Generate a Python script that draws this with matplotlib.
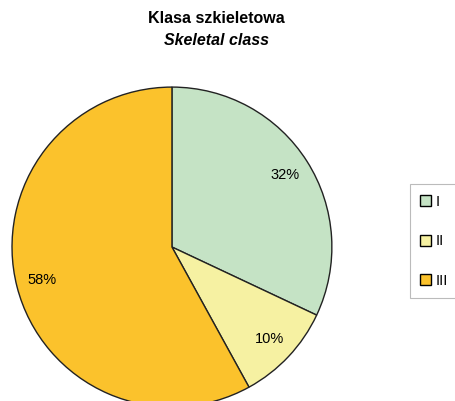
import matplotlib.pyplot as plt
from matplotlib.patches import Patch

plt.rcParams['font.family'] = ['Liberation Sans', 'DejaVu Sans']

classes = ['I', 'II', 'III']
shares = [32, 10, 58]
colors = ['#c5e3c5', '#f6f1a2', '#fbc22c']

fig = plt.figure(figsize=(4.55, 4.01), dpi=100)
ax = fig.add_axes([0.0264, -0.015, 0.703, 0.798])

wedges, texts, autotexts = ax.pie(
    shares, colors=colors, startangle=90, counterclock=False,
    autopct='%d%%', pctdistance=0.84,
    wedgeprops=dict(edgecolor='#222222', linewidth=1.0),
    textprops=dict(fontsize=10.5),
)
ax.set_xlim(-1, 1)
ax.set_ylim(-1, 1)
ax.set_aspect('equal')

fig.text(0.475, 0.953, 'Klasa szkieletowa', ha='center', va='center',
         fontsize=11.5, fontweight='bold')
fig.text(0.475, 0.898, 'Skeletal class', ha='center', va='center',
         fontsize=11.5, fontweight='bold', fontstyle='italic')

handles = [Patch(facecolor=c, edgecolor='black', linewidth=1.0) for c in colors]
leg = fig.legend(handles, classes, loc='upper left',
                 bbox_to_anchor=(0.9, 0.54), fontsize=10.5,
                 handlelength=0.8, handleheight=0.8, handletextpad=0.3,
                 labelspacing=1.75, borderpad=0.7, borderaxespad=0,
                 fancybox=False, framealpha=1, edgecolor='#bbbbbb')
leg.get_frame().set_linewidth(0.8)

fig.savefig('out.png', dpi=100)
